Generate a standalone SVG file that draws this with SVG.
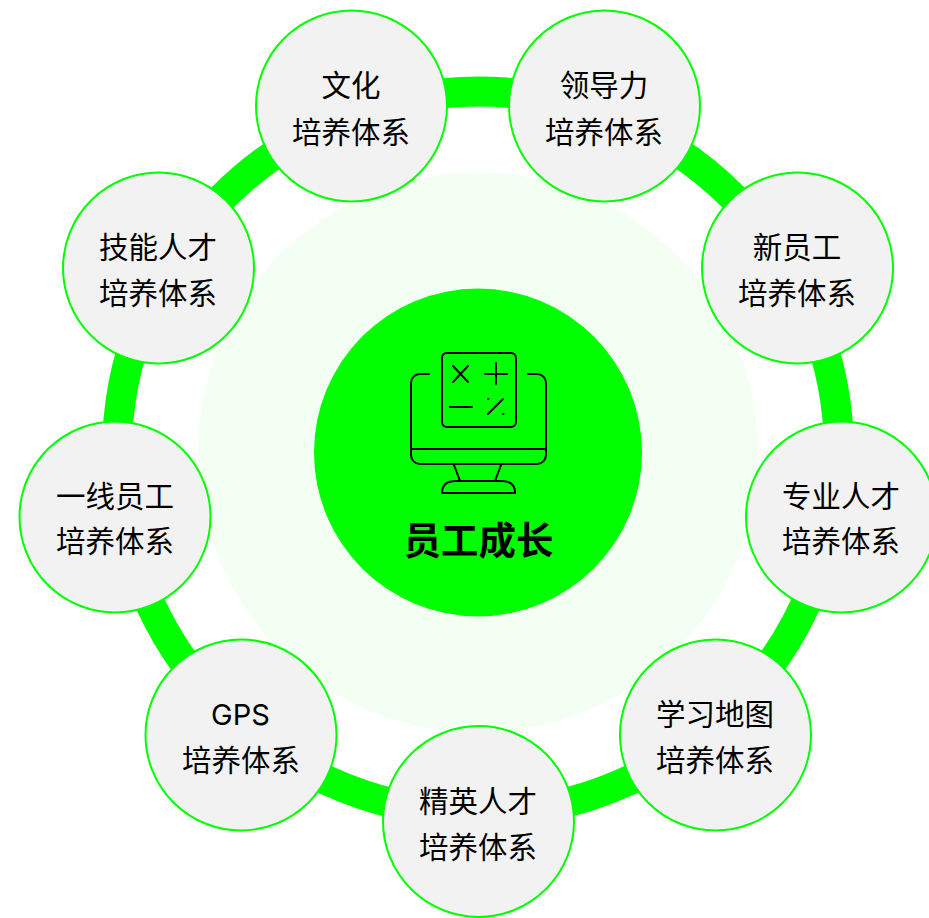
<svg xmlns="http://www.w3.org/2000/svg" width="929" height="918" viewBox="0 0 929 918">
<style>
.n{fill:#f2f2f2;stroke:#00ff00;stroke-width:2}
.t{font-family:"Noto Sans CJK SC","Noto Sans",sans-serif;font-size:29.5px;fill:#000;text-anchor:middle}
.l{font-family:Inter,"Noto Sans",sans-serif;font-size:29px}
.i{fill:none;stroke:#000;stroke-width:2;stroke-linecap:round;stroke-linejoin:round}
</style>
<rect width="929" height="918" fill="#fff"/>
<circle cx="478" cy="452.500" r="280" fill="#f3fff3"/>
<g id="connectors"><circle cx="478" cy="452.500" r="361" fill="none" stroke="#00ff00" stroke-width="30"/></g>
<g id="center">
<circle cx="478" cy="452.500" r="164" fill="#00ff00"/>
<path class="i" d="M429 374H420a9 9 0 0 0-9 9V455a9 9 0 0 0 9 9H537a9 9 0 0 0 9-9V383a9 9 0 0 0-9-9H528M411 449H546M454 465L460 481M501 465L495 481M442 493Q442 481 456 481H502Q515 481 515 493ZM446 353H511a5 5 0 0 1 5 5V422a5 5 0 0 1-5 5H447a5 5 0 0 1-5-5V358a5 5 0 0 1 4-5ZM453 366L468 382M468 366L453 382M485 374H507M496 363V384M450 407H472M488 414L503 399M488 399h.5M503 414h.5"/>
<text x="478.500" y="554" style="font-family:'Noto Sans CJK SC',sans-serif;font-size:37.500px;font-weight:700;text-anchor:middle">员工成长</text>
</g>
<g id="n1"><circle class="n" cx="351.500" cy="106" r="95.500"/><text class="t" x="351" y="96">文化</text><text class="t" x="351" y="143">培养体系</text></g>
<g id="n2"><circle class="n" cx="604.500" cy="106" r="95.500"/><text class="t" x="604" y="96">领导力</text><text class="t" x="604" y="143">培养体系</text></g>
<g id="n3"><circle class="n" cx="797.500" cy="268" r="95.500"/><text class="t" x="797" y="258">新员工</text><text class="t" x="797" y="304">培养体系</text></g>
<g id="n4"><circle class="n" cx="841.500" cy="517" r="95.500"/><text class="t" x="841" y="507">专业人才</text><text class="t" x="841" y="552">培养体系</text></g>
<g id="n5"><circle class="n" cx="715.500" cy="735" r="95.500"/><text class="t" x="715" y="725">学习地图</text><text class="t" x="715" y="771">培养体系</text></g>
<g id="n6"><circle class="n" cx="478.500" cy="821.500" r="95.500"/><text class="t" x="478" y="812">精英人才</text><text class="t" x="478" y="858">培养体系</text></g>
<g id="n7"><circle class="n" cx="241" cy="735" r="95.500"/><text class="t l" x="240.500" y="725">GPS</text><text class="t" x="241" y="771">培养体系</text></g>
<g id="n8"><circle class="n" cx="115" cy="517" r="95.500"/><text class="t" x="115" y="507">一线员工</text><text class="t" x="115" y="552">培养体系</text></g>
<g id="n9"><circle class="n" cx="158.500" cy="268" r="95.500"/><text class="t" x="158" y="258">技能人才</text><text class="t" x="158" y="304">培养体系</text></g>
</svg>
